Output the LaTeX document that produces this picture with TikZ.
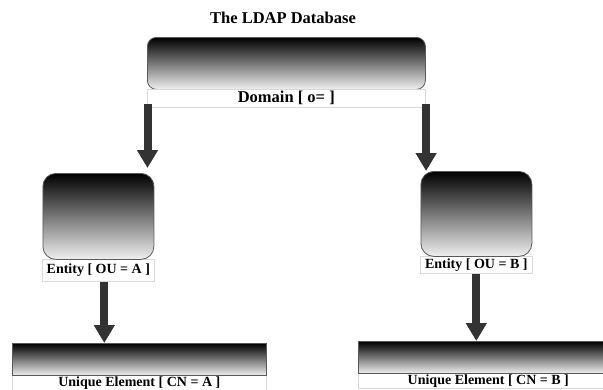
\documentclass[tikz,border=0pt]{standalone}
\usepackage{fontspec}
\setmainfont{Liberation Serif}
\usetikzlibrary{arrows.meta,calc}
\begin{document}
\begin{tikzpicture}[x=1pt,y=-1pt,
  gradbox/.style={draw=black!65, line width=0.8pt, top color=black, bottom color=black!6, inner sep=0pt, anchor=north west},
  labbox/.style={draw=black!15, line width=0.6pt, inner sep=0pt, anchor=north west, font=\bfseries\fontsize{14}{16}\selectfont},
  bigarrow/.style={draw=black!80, line width=8pt, -{Triangle[width=20pt,length=18pt]}},
]
\useasboundingbox (0,0) rectangle (603,389);
\clip (0,0) rectangle (603,389);

\node[font=\bfseries\fontsize{16.5}{18}\selectfont] (title) at (283,18) {The LDAP Database};

% Domain
\node[gradbox, rounded corners=9pt, minimum width=278pt, minimum height=52pt] (dom) at (147,37) {};
\node[labbox, font=\bfseries\fontsize{16.5}{18}\selectfont, minimum width=278pt, minimum height=18pt] (doml) at (147,89) {Domain [ o= ]};

% Entity A
\node[labbox, minimum width=112pt, minimum height=22pt] (entAl) at (42,259) {Entity [ OU = A ]};
\node[gradbox, rounded corners=13pt, minimum width=111pt, minimum height=86pt] (entA) at (42.5,173) {};

% Entity B
\node[labbox, minimum width=112pt, minimum height=17pt] (entBl) at (420,256) {Entity [ OU = B ]};
\node[gradbox, rounded corners=13pt, minimum width=111pt, minimum height=85pt] (entB) at (420.5,171) {};

% Unique A
\node[labbox, minimum width=254pt, minimum height=15pt] (uniqAl) at (12,375) {Unique Element [ CN = A ]};
\draw[draw=black!15, line width=0.6pt] (uniqAl.south west) -- ++(0,10) (uniqAl.south east) -- ++(0,10);
\node[gradbox, minimum width=254pt, minimum height=32pt] (uniqA) at (12,343) {};

% Unique B
\node[labbox, minimum width=260pt, minimum height=15pt] (uniqBl) at (358,373) {Unique Element [ CN = B ]};
\node[gradbox, minimum width=260pt, minimum height=32pt] (uniqB) at (358,341) {};

% Arrows
\draw[bigarrow, shorten <=-4pt, shorten >=5pt] ([xshift=0.5pt]doml.south west) -- ([xshift=0.5pt]doml.south west |- entA.north);
\draw[bigarrow, shorten <=-4pt] ([xshift=0.5pt]doml.south east) -- ([xshift=0.5pt]doml.south east |- entB.north);
\draw[bigarrow] ([xshift=6pt]entAl.south) -- ([xshift=6pt]entAl.south |- uniqA.north);
\draw[bigarrow] (entBl.south) -- (entBl.south |- uniqB.north);
\end{tikzpicture}
\end{document}
